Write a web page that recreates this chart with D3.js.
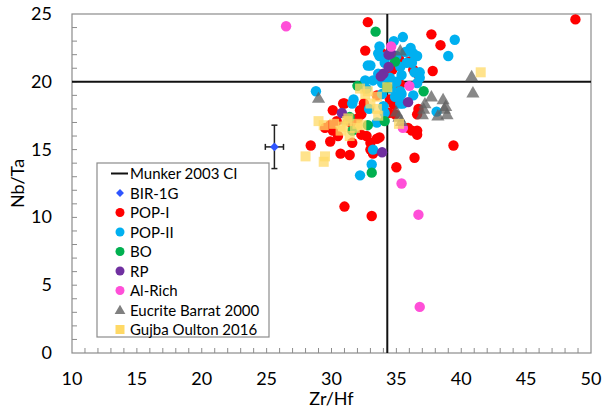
<!DOCTYPE html>
<html>
<head>
<meta charset="utf-8">
<script src="https://cdn.jsdelivr.net/npm/d3@7"></script>
<style>
  body { margin: 0; background: #fff; }
  text { font-family: "Lato", "Liberation Sans", sans-serif; }
</style>
</head>
<body>
<div id="chart"></div>
<script>
// data, [Zr/Hf, Nb/Ta]
const munkerZrHf = 34.3, munkerNbTa = 20;
const bir1g = [[25.6, 15.2]];
const bir1gErr = [[0.7, 1.6]];
const pop1 = [[48.8,24.6],[32.8,24.4],[32.6,22.3],[37.7,23.5],[38.4,22.7],[37.8,20.8],[30.1,17.9],[28.4,15.3],
  [29.9,15.6],[30.7,14.7],[31.4,14.6],[32.3,16.1],[32.7,16.0],[33.5,15.8],[33.0,15.0],[32.5,18.4],[32.3,17.6],
  [29.9,16.8],[30.1,16.4],[33.2,14.7],[35.0,13.7],[36.4,14.4],[39.4,15.3],[36.7,18.0],[36.6,16.4],[36.6,16.1],
  [35.9,16.6],[34.8,18.3],[34.5,18.7],[34.4,17.7],[33.7,15.9],[31.0,10.8],[33.1,10.1],[30.9,18.4],[36.3,20.9],
  [36.7,20.5],[33.9,22.1],[36.6,17.6],[32.2,17.9],[36.2,16.4],[33.0,15.5],[31.0,18.4],[30.4,17.1],[31.5,17.0],
  [32.0,17.3],[34.9,17.6],[35.3,19.8],[34.7,20.9],[36.0,21.5],[35.2,21.7],[33.5,19.0],[31.6,15.5],[29.5,16.6],
  [30.5,16.0],[34.3,20.4]];
const pop2 = [[28.8,19.3],[39.5,23.1],[39.0,21.9],[35.5,23.3],[32.2,13.1],[33.1,13.9],[33.2,15.0],[31.6,18.4],
  [38.1,17.8],[34.0,18.2],[34.1,17.7],[35.3,18.4],[35.4,19.1],[34.8,23.0],[36.1,22.5],[36.3,22.1],[35.7,22.2],
  [35.0,21.9],[35.8,21.4],[36.2,21.4],[34.3,21.9],[35.3,21.1],[35.4,20.5],[35.0,20.0],[36.6,19.9],[36.8,20.7],
  [35.3,19.3],[36.3,19.0],[35.5,18.4],[33.9,19.1],[34.0,19.9],[33.6,22.1],[33.0,21.2],[33.6,20.6],[33.2,20.1],
  [32.7,19.5],[33.9,19.9],[34.1,21.4],[31.7,18.7],[32.8,21.2],[32.6,20.1],[33.7,21.9],[33.7,22.6],[36.4,20.7],
  [36.8,20.3],[36.6,21.9],[34.6,19.5],[34.5,20.3],[34.9,18.9],[33.5,17.0],[32.9,18.0]];
const bo = [[33.4,23.7],[32.0,19.7],[34.9,21.5],[37.1,19.3],[33.1,13.3],[34.1,17.1],[32.8,16.8],[31.6,16.4],
  [31.4,17.4],[34.3,19.6]];
const rp = [[34.6,22.1],[34.0,20.6],[34.4,21.1],[33.8,20.4],[34.4,22.0],[35.9,18.5],[30.8,17.7],[33.9,14.8]];
const alRich = [[26.5,24.1],[34.6,22.6],[36.0,19.7],[35.5,16.6],[35.4,12.5],[36.7,10.2],[36.8,3.4]];
const eucrite = [[29.0,18.8],[35.3,22.3],[40.8,20.4],[40.9,19.2],[37.7,18.9],[37.2,18.4],[38.6,18.7],[37.1,18.0],
  [37.0,17.6],[38.8,18.2],[38.9,17.6],[38.2,17.5],[38.7,18.0],[35.2,17.4],[31.2,17.2],[35.0,17.8],[35.4,17.1]];
const gujba = [[41.5,20.7],[29.0,17.1],[29.4,16.8],[28.0,14.5],[29.5,14.5],[29.4,14.1],[30.7,16.4],[31.4,16.0],
  [31.3,17.3],[32.0,16.9],[30.9,16.7],[32.2,19.5],[32.8,19.3],[33.5,18.9],[34.3,19.6],[33.5,18.0],[33.0,18.4],
  [35.2,16.9],[32.6,19.1],[31.2,17.1],[31.8,16.6],[32.3,16.8],[30.2,16.9],[33.6,17.5]];

const xTicks = [10, 15, 20, 25, 30, 35, 40, 45, 50];
const yTicks = [0, 5, 10, 15, 20, 25];

const W = 605, H = 412;
const margin = {top: 14, right: 14, bottom: 59, left: 72},
    width = W - margin.left - margin.right,
    height = H - margin.top - margin.bottom;

const svg = d3.select("#chart").append("svg")
    .attr("width", W).attr("height", H);
const g = svg.append("g")
    .attr("transform", "translate(" + margin.left + "," + margin.top + ")");

const x = d3.scaleLinear().domain([10, 50]).range([0, width]);
const y = d3.scaleLinear().domain([0, 25]).range([height, 0]);

// frame
g.append("rect").attr("width", width).attr("height", height)
  .attr("fill", "none").attr("stroke", "#8c8c8c").attr("stroke-width", 1.2);

// minor ticks, inside
g.selectAll(".xt").data(d3.range(11, 50)).enter().append("line")
  .attr("x1", d => x(d)).attr("x2", d => x(d))
  .attr("y1", height).attr("y2", height - 5)
  .attr("stroke", "#8c8c8c");
g.selectAll(".yt").data(d3.range(1, 25)).enter().append("line")
  .attr("x1", 0).attr("x2", 5)
  .attr("y1", d => y(d)).attr("y2", d => y(d))
  .attr("stroke", "#8c8c8c");

// tick labels
g.selectAll(".xl").data(xTicks).enter().append("text")
  .attr("x", d => x(d)).attr("y", height + 32)
  .attr("text-anchor", "middle").style("font-size", "18px").text(d => d);
g.selectAll(".yl").data(yTicks).enter().append("text")
  .attr("x", -20).attr("y", d => y(d) + 6)
  .attr("text-anchor", "end").style("font-size", "18px").text(d => d);

// axis titles
svg.append("text").attr("x", margin.left + x(30)).attr("y", 405)
  .attr("text-anchor", "middle").style("font-size", "18px").text("Zr/Hf");
svg.append("text").attr("transform", "translate(24," + (margin.top + y(12.5)) + ") rotate(-90)")
  .attr("text-anchor", "middle").style("font-size", "18px").text("Nb/Ta");

// Munker 2003 CI lines
g.append("line").attr("x1", 0).attr("x2", width)
  .attr("y1", y(munkerNbTa)).attr("y2", y(munkerNbTa))
  .attr("stroke", "#111").attr("stroke-width", 2);
g.append("line").attr("x1", x(munkerZrHf)).attr("x2", x(munkerZrHf))
  .attr("y1", 0).attr("y2", height)
  .attr("stroke", "#111").attr("stroke-width", 2);

// BIR-1G with error bars
bir1g.forEach(function(d, i) {
  const ex = bir1gErr[i][0], ey = bir1gErr[i][1];
  const eb = g.append("g").attr("stroke", "#222").attr("stroke-width", 1.5);
  eb.append("line").attr("x1", x(d[0])).attr("x2", x(d[0])).attr("y1", y(d[1] - ey)).attr("y2", y(d[1] + ey));
  eb.append("line").attr("x1", x(d[0] - ex)).attr("x2", x(d[0] + ex)).attr("y1", y(d[1])).attr("y2", y(d[1]));
  [d[1] - ey, d[1] + ey].forEach(v => eb.append("line")
    .attr("x1", x(d[0]) - 3).attr("x2", x(d[0]) + 3).attr("y1", y(v)).attr("y2", y(v)));
  [d[0] - ex, d[0] + ex].forEach(v => eb.append("line")
    .attr("x1", x(v)).attr("x2", x(v)).attr("y1", y(d[1]) - 3).attr("y2", y(d[1]) + 3));
});

const diamond = d3.symbol().type(d3.symbolDiamond2).size(50);
const tri = d3.symbol().type(d3.symbolTriangle).size(75);

function circles(data, color) {
  g.append("g").selectAll("circle").data(data).enter().append("circle")
    .attr("cx", d => x(d[0])).attr("cy", d => y(d[1])).attr("r", 5.2)
    .attr("fill", color);
}

g.append("g").selectAll("path").data(bir1g).enter().append("path")
  .attr("d", diamond).attr("transform", d => "translate(" + x(d[0]) + "," + y(d[1]) + ")")
  .attr("fill", "#2f55ff");
circles(pop1, "#ff0000");
circles(pop2, "#00b0f0");
circles(bo, "#00b050");
circles(rp, "#7030a0");
circles(alRich, "#ff4fd8");
g.append("g").selectAll("path").data(eucrite).enter().append("path")
  .attr("d", tri).attr("transform", d => "translate(" + x(d[0]) + "," + (y(d[1]) + 1) + ")")
  .attr("fill", "#606060").attr("fill-opacity", 0.75);
g.append("g").selectAll("rect").data(gujba).enter().append("rect")
  .attr("x", d => x(d[0]) - 5).attr("y", d => y(d[1]) - 5)
  .attr("width", 10).attr("height", 10)
  .attr("fill", "#ffd966").attr("fill-opacity", 0.75);

// legend
const lg = svg.append("g").attr("transform", "translate(97,163)");
lg.append("rect").attr("width", 172).attr("height", 174)
  .attr("fill", "#fff").attr("stroke", "#8c8c8c").attr("stroke-width", 1.2);
const items = [
  {name: "Munker 2003 CI", type: "line", color: "#111"},
  {name: "BIR-1G", type: "diamond", color: "#2f55ff"},
  {name: "POP-I", type: "circle", color: "#ff0000"},
  {name: "POP-II", type: "circle", color: "#00b0f0"},
  {name: "BO", type: "circle", color: "#00b050"},
  {name: "RP", type: "circle", color: "#7030a0"},
  {name: "Al-Rich", type: "circle", color: "#ff4fd8"},
  {name: "Eucrite Barrat 2000", type: "triangle", color: "#808080"},
  {name: "Gujba Oulton 2016", type: "square", color: "#ffd966"}
];
items.forEach(function(it, i) {
  const cy = 10.5 + i * 19.5;
  const mx = 23;
  if (it.type === "line") {
    lg.append("line").attr("x1", 14).attr("x2", 31).attr("y1", cy).attr("y2", cy)
      .attr("stroke", it.color).attr("stroke-width", 2);
  } else if (it.type === "circle") {
    lg.append("circle").attr("cx", mx).attr("cy", cy).attr("r", 4.5).attr("fill", it.color);
  } else if (it.type === "diamond") {
    lg.append("path").attr("d", d3.symbol().type(d3.symbolDiamond2).size(40))
      .attr("transform", "translate(" + mx + "," + cy + ")").attr("fill", it.color);
  } else if (it.type === "triangle") {
    lg.append("path").attr("d", d3.symbol().type(d3.symbolTriangle).size(50))
      .attr("transform", "translate(" + mx + "," + (cy + 1) + ")").attr("fill", it.color);
  } else {
    lg.append("rect").attr("x", mx - 4.5).attr("y", cy - 4.5).attr("width", 9).attr("height", 9)
      .attr("fill", it.color);
  }
  lg.append("text").attr("x", 33).attr("y", cy + 5.5)
    .style("font-size", "15px").text(it.name);
});
</script>
</body>
</html>
